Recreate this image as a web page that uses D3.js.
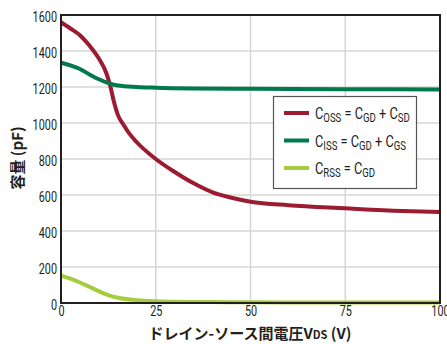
<!DOCTYPE html>
<html>
<head>
<meta charset="utf-8">
<script src="https://cdn.jsdelivr.net/npm/d3@7"></script>
<style>
  html, body { margin: 0; padding: 0; background: #fff; }
  svg { display: block; }
  .tick-label { font-family: "Roboto", "Liberation Sans", sans-serif; font-size: 14.5px; fill: #231f20; }
  .legend-text { font-family: "Roboto", "Liberation Sans", sans-serif; font-size: 16px; fill: #231f20; }
  .title { font-family: "Noto Sans CJK JP", "Noto Sans", sans-serif; font-weight: bold; fill: #231f20; }
</style>
</head>
<body>
<svg id="chart" width="447" height="344"></svg>
<script>
// Drain-source voltage (V) sample points per curve
const cossV = [0, 2.5, 5, 7.5, 10, 12, 13, 14, 15, 16.5, 18, 20, 25, 30, 35, 40, 45, 50, 60, 75, 90, 100];
const cossPF = [1560, 1525, 1488, 1430, 1358, 1275, 1205, 1115, 1045, 990, 942, 893, 800, 728, 665, 615, 585, 563, 543, 526, 511, 505];

const cissV = [0, 2.5, 5, 7.5, 10, 12.5, 15, 20, 25, 35, 50, 75, 100];
const cissPF = [1335, 1320, 1300, 1270, 1243, 1222, 1208, 1200, 1196, 1192, 1190, 1188, 1186];

const crssV = [0, 2.5, 5, 7.5, 10, 12.5, 15, 20, 25, 30, 40, 50, 75, 100];
const crssPF = [152, 135, 114, 90, 65, 44, 29, 16, 10, 7, 5, 4, 3, 3];

const xTicks = [0, 25, 50, 75, 100];
const yTicks = [0, 200, 400, 600, 800, 1000, 1200, 1400, 1600];

const series = [
  { name: "oss", v: cossV, c: cossPF, color: "#9b1c31", label: [["C", false], ["OSS", true], [" = C", false], ["GD", true], [" + C", false], ["SD", true]] },
  { name: "iss", v: cissV, c: cissPF, color: "#00794b", label: [["C", false], ["ISS", true], [" = C", false], ["GD", true], [" + C", false], ["GS", true]] },
  { name: "rss", v: crssV, c: crssPF, color: "#a4cc3c", label: [["C", false], ["RSS", true], [" = C", false], ["GD", true]] }
];

const svg = d3.select("#chart");
const plot = { left: 61, right: 440, top: 15, bottom: 303 };

const x = d3.scaleLinear().domain([0, 100]).range([plot.left, plot.right]);
const y = d3.scaleLinear().domain([0, 1600]).range([plot.bottom, plot.top]);

// Gridlines
const grid = svg.append("g");
grid.selectAll("line.h").data(yTicks.slice(1, -1)).join("line")
  .attr("x1", plot.left).attr("x2", plot.right)
  .attr("y1", d => y(d)).attr("y2", d => y(d))
  .attr("stroke", "#d6d6d6").attr("stroke-width", 1.5);
grid.selectAll("line.v").data(xTicks.slice(1, -1)).join("line")
  .attr("x1", d => x(d)).attr("x2", d => x(d))
  .attr("y1", plot.top).attr("y2", plot.bottom)
  .attr("stroke", "#d6d6d6").attr("stroke-width", 1.5);

// Curves
const line = d3.line().x(d => x(d[0])).y(d => y(d[1])).curve(d3.curveMonotoneX);
series.forEach(s => {
  svg.append("path")
    .datum(s.v.map((v, i) => [v, s.c[i]]))
    .attr("d", line)
    .attr("fill", "none")
    .attr("stroke", s.color)
    .attr("stroke-width", 4)
    .attr("stroke-linecap", "butt");
});

// Frame
svg.append("rect")
  .attr("x", plot.left).attr("y", plot.top)
  .attr("width", plot.right - plot.left).attr("height", plot.bottom - plot.top)
  .attr("fill", "none").attr("stroke", "#231f20").attr("stroke-width", 2);

// Condensed look for the numeric labels
const condense = sel => sel
  .attr("textLength", d => String(d).length * 6.1)
  .attr("lengthAdjust", "spacingAndGlyphs");

// Axes (labels only, no tick marks)
const yAxis = d3.axisLeft(y).tickValues(yTicks).tickSize(0).tickPadding(4).tickFormat(d3.format("d"));
const gy = svg.append("g").attr("transform", `translate(${plot.left},0)`).call(yAxis);
gy.select(".domain").remove();
gy.selectAll("text").attr("class", "tick-label").attr("font-family", null).attr("font-size", null)
  .attr("dy", "0.45em").call(condense);

const xAxis = d3.axisBottom(x).tickValues(xTicks).tickSize(0).tickPadding(3);
const gx = svg.append("g").attr("transform", `translate(0,${plot.bottom})`).call(xAxis);
gx.select(".domain").remove();
gx.selectAll("text").attr("class", "tick-label").attr("font-family", null).attr("font-size", null)
  .call(condense);

// Axis titles
svg.append("text").attr("class", "title")
  .attr("transform", "translate(23,158) rotate(-90)")
  .attr("text-anchor", "middle").attr("font-size", 15)
  .text("容量 (pF)");

const xt = svg.append("text").attr("class", "title")
  .attr("x", 250).attr("y", 339).attr("text-anchor", "middle").attr("font-size", 15);
xt.append("tspan").text("ドレイン-ソース間電圧V");
xt.append("tspan").attr("font-size", 11).text("DS");
xt.append("tspan").text(" (V)");

// Legend
const lg = svg.append("g");
lg.append("rect").attr("x", 273.5).attr("y", 96.5).attr("width", 143).attr("height", 92)
  .attr("fill", "#fff").attr("stroke", "#555").attr("stroke-width", 1.2);
series.forEach((s, i) => {
  const cy = 113 + i * 27.5;
  lg.append("line").attr("x1", 284).attr("x2", 309).attr("y1", cy).attr("y2", cy)
    .attr("stroke", s.color).attr("stroke-width", 4);
  // horizontally squeezed label, like a condensed face
  const t = lg.append("g").attr("transform", `translate(315,${cy + 6}) scale(0.8,1)`)
    .append("text").attr("class", "legend-text").attr("x", 0).attr("y", 0);
  s.label.forEach(([str, sub], j) => {
    if (sub) {
      t.append("tspan").attr("font-size", 12).attr("dy", 3).text(str);
    } else {
      t.append("tspan").attr("dy", j ? -3 : 0).text(str);
    }
  });
});
</script>
</body>
</html>
